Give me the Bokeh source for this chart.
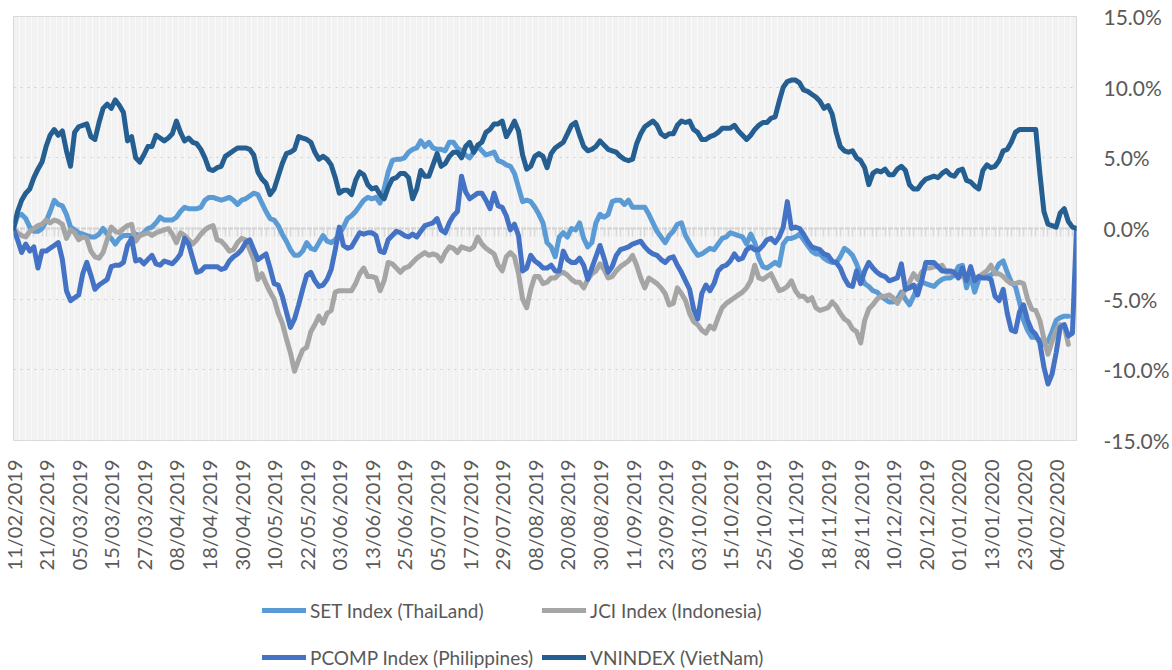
import math
import numpy as np
import pandas as pd
from bokeh.plotting import figure
from bokeh.layouts import column
from bokeh.models import (Range1d, LinearAxis, FixedTicker, SingleIntervalTicker,
                          PrintfTickFormatter, Legend, LegendItem, ColumnDataSource)
from bokeh.embed import file_html
from bokeh.resources import INLINE

nan = float("nan")

# ---- categories: trading days 11/02/2019 .. 11/02/2020 ----
dates = pd.bdate_range("2019-02-11", periods=262)
date_labels = [d.strftime("%d/%m/%Y") for d in dates]
label_every = 8

series_names = ["SET Index (ThaiLand)", "JCI Index (Indonesia)",
                "PCOMP Index (Philippines)", "VNINDEX (VietNam)"]

# ---- values in percent ----
SET = [
    0, 0.9, 1.0, 0.7, 0.1, -0.2, -0.2, 0.0, 0.5, 1.2,
    2.0, 1.7, 1.6, 1.0, 0.1, -0.1, -0.3, -0.4, -0.5, -0.6,
    -0.6, -0.4, 0.0, -0.4, -0.7, -1.1, -0.7, -0.5, -0.5, -0.5,
    -0.4, -0.5, -0.3, 0.0, 0.1, 0.4, 0.8, 0.6, 0.6, 0.6,
    0.8, 1.2, 1.5, 1.4, 1.4, 1.4, 1.5, 2.0, 2.2, 2.2,
    2.1, 2.0, 2.1, 2.2, 2.0, 1.7, 2.0, 2.1, 2.3, 2.5,
    2.4, 1.8, 1.2, 0.7, 0.6, 0.2, -0.4, -0.9, -1.5, -1.9,
    -1.9, -1.6, -1.0, -1.4, -1.5, -1.0, -0.5, -0.9, -1.0, -0.8,
    -0.4, 0.1, 0.7, 0.9, 1.2, 1.6, 2.0, 2.2, 2.1, 2.2,
    1.8, 2.8, 4.0, 4.8, 4.9, 4.9, 5.0, 5.4, 5.6, 5.7,
    6.2, 5.8, 6.1, 5.7, 5.6, 5.6, 5.5, 6.1, 6.1, 5.7,
    5.5, 5.2, 5.0, 5.4, 5.8, 5.5, 5.2, 5.3, 5.4, 4.8,
    4.7, 4.5, 4.4, 3.9, 2.9, 1.9, 2.0, 1.9, 1.5, 1.0,
    0.4, -1.0, -1.3, -2.0, -0.6, -0.3, -0.6, 0.0, -0.1, 0.4,
    -0.7, -1.3, -1.0, 0.4, 1.0, 0.8, 1.0, 1.9, 2.0, 2.0,
    1.7, 2.0, 1.5, 1.5, 1.5, 1.5, 1.0, 0.4, -0.2, -0.6,
    -1.0, -0.5, -0.2, 0.3, 0.4, -0.5, -1.0, -1.5, -1.9, -1.8,
    -1.6, -1.4, -1.5, -1.1, -0.7, -0.6, -0.3, -0.4, -0.5, -0.6,
    -1.1, -0.4, -1.0, -2.1, -2.7, -2.8, -2.6, -2.4, -2.6, -1.1,
    -0.7, -0.7, -0.6, -0.4, -0.8, -1.2, -1.6, -1.8, -1.8, -2.1,
    -2.3, -2.4, -2.4, -2.0, -1.4, -1.6, -1.9, -2.5, -3.3, -3.9,
    -4.1, -4.4, -4.5, -4.8, -5.0, -5.2, -5.2, -5.0, -4.5, -5.0,
    -5.4, -4.8, -4.1, -3.8, -3.9, -4.0, -4.1, -3.8, -3.6, -3.5,
    -3.5, -3.3, -2.7, -2.6, -4.2, -3.3, -4.5, -3.6, -3.4, -3.4,
    -3.3, -3.0, -2.5, -2.3, -3.1, -3.8, -4.1, -5.2, -6.5, -7.2,
    -7.7, -7.7, -7.9, -8.2, -8.0, -7.3, -6.5, -6.3, -6.2, -6.2,
    nan, nan]

JCI = [
    0, -0.3, -0.5, -0.6, -0.2, 0.0, 0.2, 0.3, 0.6, 0.4,
    0.6, 0.5, 0.3, -0.7, -0.1, -0.3, -0.8, -0.6, -0.7, -1.6,
    -2.0, -2.1, -1.7, -0.8, 0.1, -0.2, -0.3, 0.0, 0.2, 0.3,
    -0.9, -0.5, -0.4, -0.3, -0.5, -0.3, -0.2, -0.1, 0.0, -0.4,
    -1.0, -0.3, -0.5, -0.8, -1.1, -0.8, -0.4, -0.1, 0.1, 0.2,
    -0.8, -0.9, -1.2, -1.6, -1.5, -1.0, -0.7, -0.8, -1.5, -2.2,
    -3.6, -3.2, -3.9, -4.5, -5.0, -6.0, -6.7, -7.8, -8.8, -10.1,
    -9.3, -8.6, -8.4, -7.3, -6.8, -6.2, -6.7, -6.0, -5.8, -4.5,
    -4.4, -4.4, -4.4, -4.4, -3.9, -3.2, -2.8, -3.4, -3.4, -3.5,
    -4.4, -3.7, -2.4, -2.5, -2.8, -3.1, -2.8, -2.7, -2.4, -2.1,
    -1.9, -1.7, -1.9, -1.8, -1.9, -2.3, -1.7, -1.3, -1.4, -1.7,
    -1.3, -1.4, -1.5, -1.3, -0.6, -1.1, -1.4, -1.6, -1.8, -2.6,
    -3.0, -2.0, -1.7, -2.0, -3.2, -5.0, -5.6, -4.3, -3.4, -3.4,
    -3.9, -3.8, -3.5, -3.5, -3.2, -3.1, -3.3, -3.6, -3.8, -3.8,
    -4.2, -3.6, -3.2, -3.0, -2.5, -2.9, -3.5, -3.4, -3.0, -2.7,
    -2.5, -2.3, -1.9, -2.6, -3.5, -4.2, -3.5, -3.7, -3.9, -4.2,
    -4.6, -5.4, -5.3, -4.2, -4.6, -5.1, -6.0, -6.6, -6.8, -7.2,
    -7.4, -6.9, -7.1, -6.3, -5.6, -5.3, -5.1, -4.9, -4.7, -4.5,
    -4.2, -3.7, -2.6, -3.5, -3.6, -3.4, -3.2, -3.8, -4.4, -4.3,
    -4.1, -3.7, -4.4, -4.8, -4.8, -5.1, -4.9, -5.6, -5.8, -5.7,
    -5.6, -5.2, -5.5, -6.0, -6.4, -6.6, -7.1, -7.3, -8.1, -6.5,
    -5.7, -5.4, -5.0, -4.8, -4.8, -4.7, -4.9, -5.3, -4.8, -4.3,
    -3.8, -3.2, -3.6, -3.1, -2.8, -2.8, -2.7, -2.7, -2.6, -3.1,
    -3.1, -3.1, -3.3, -3.4, -3.4, -3.2, -3.6, -3.4, -3.2, -3.0,
    -2.6, -3.2, -3.2, -3.4, -3.7, -3.9, -3.9, -3.8, -3.9, -5.0,
    -5.7, -5.8, -6.5, -7.8, -8.9, -8.0, -7.2, -6.8, -6.9, -8.2,
    nan, nan]

PCOMP = [
    0, -0.8, -1.7, -1.1, -1.6, -1.3, -2.8, -1.6, -1.6, -1.4,
    -1.2, -1.0, -2.2, -4.4, -5.1, -4.9, -4.7, -3.2, -2.4, -3.3,
    -4.3, -4.0, -3.8, -3.6, -2.7, -2.6, -2.6, -2.4, -1.2, -0.7,
    -2.3, -2.2, -2.5, -2.2, -1.9, -2.5, -2.6, -2.3, -2.4, -2.5,
    -2.2, -1.8, -0.7, -1.1, -2.1, -3.1, -3.0, -2.7, -2.7, -2.7,
    -2.7, -2.9, -2.8, -2.3, -2.0, -1.8, -1.5, -1.0, -0.8, -1.5,
    -2.2, -2.0, -1.8, -2.8, -3.9, -4.0, -4.8, -5.9, -7.0, -6.4,
    -5.4, -4.3, -3.3, -3.1, -3.7, -4.1, -4.0, -3.6, -2.9, -1.5,
    0.1, -1.2, -1.4, -1.3, -0.8, -0.3, -0.4, -0.3, -0.3, -0.5,
    -1.6, -1.7, -0.8, -0.5, -0.2, -0.3, -0.5, -0.6, -0.4, -0.6,
    -0.2, 0.2, 0.3, 0.4, 0.7, -0.1, -0.3, 0.4, 0.9, 1.2,
    3.7, 2.6, 2.1, 2.3, 2.5, 2.5, 2.0, 1.4, 2.5, 1.6,
    1.5, 0.9, -0.1, 0.3, -0.5, -3.0, -2.8, -1.9, -2.3, -2.5,
    -2.8, -2.8, -2.6, -3.0, -3.0, -1.6, -2.2, -2.4, -2.4, -2.1,
    -2.6, -3.6, -2.8, -2.0, -1.2, -2.1, -3.1, -2.7, -1.9, -1.5,
    -1.4, -1.3, -1.1, -1.0, -0.9, -1.3, -1.6, -1.8, -1.9, -2.2,
    -2.4, -2.1, -2.0, -2.6, -3.1, -3.7, -4.3, -5.7, -6.4, -4.6,
    -4.0, -4.4, -3.9, -3.0, -2.7, -2.6, -2.3, -1.8, -2.2, -2.1,
    -1.5, -1.3, -1.5, -1.5, -1.2, -0.8, -0.7, -1.0, -0.6, 0.1,
    1.9, 0.0, 0.1, 0.0, -0.4, -0.9, -1.3, -1.4, -1.5, -1.8,
    -1.9, -2.3, -2.4, -2.8, -3.5, -4.0, -4.1, -3.0, -3.9, -3.0,
    -2.4, -2.8, -3.1, -3.3, -3.4, -3.7, -3.6, -3.5, -2.5, -4.3,
    -4.2, -4.0, -4.7, -3.7, -2.4, -2.4, -2.4, -2.7, -3.0, -3.0,
    -3.0, -3.1, -3.5, -2.8, -3.7, -2.7, -3.7, -3.4, -3.5, -3.5,
    -3.6, -4.8, -5.1, -4.3, -6.0, -7.2, -7.3, -5.9, -5.4, -6.5,
    -7.2, -7.5, -8.1, -9.8, -11.0, -10.3, -8.8, -7.0, -6.8, -7.6,
    -7.4, 0.0]

VN = [
    0, 1.2, 2.0, 2.5, 2.8, 3.6, 4.2, 4.7, 5.8, 6.6,
    7.0, 6.6, 6.9, 5.5, 4.4, 6.8, 7.2, 7.3, 7.4, 6.5,
    6.3, 7.5, 8.5, 8.8, 8.5, 9.1, 8.7, 8.2, 6.2, 6.5,
    5.0, 4.7, 5.2, 5.8, 5.8, 6.6, 6.4, 6.2, 6.4, 6.7,
    7.6, 6.8, 6.2, 6.4, 6.1, 6.0, 5.6, 5.0, 4.2, 4.1,
    4.3, 4.4, 5.1, 5.3, 5.5, 5.7, 5.7, 5.7, 5.6, 5.2,
    4.0, 3.5, 3.2, 2.4, 2.8, 3.7, 4.6, 5.3, 5.4, 5.6,
    6.5, 6.4, 6.3, 6.1, 5.4, 4.9, 5.1, 4.9, 4.5, 3.6,
    2.5, 2.7, 2.7, 2.4, 3.4, 4.0, 3.8, 3.1, 2.8, 2.9,
    2.4, 2.1, 2.9, 3.5, 3.6, 3.9, 3.9, 3.6, 2.1, 2.8,
    4.1, 3.7, 3.7, 4.5, 5.3, 4.4, 4.6, 5.1, 5.4, 5.4,
    5.0, 5.8, 6.1, 5.4, 5.9, 6.1, 6.8, 7.0, 7.4, 7.4,
    7.6, 6.5, 7.0, 7.6, 6.9, 5.2, 4.2, 4.4, 5.1, 5.3,
    5.1, 4.3, 5.3, 5.7, 5.9, 6.1, 6.7, 7.3, 7.5, 6.6,
    5.8, 5.5, 5.6, 5.8, 6.2, 5.9, 5.6, 5.5, 5.4, 5.1,
    4.9, 4.8, 4.9, 6.0, 6.7, 7.2, 7.4, 7.6, 7.3, 6.7,
    6.5, 6.7, 6.7, 7.3, 7.6, 7.5, 7.6, 7.0, 6.8, 6.3,
    6.3, 6.5, 6.6, 6.8, 7.1, 7.1, 7.1, 7.3, 6.9, 6.6,
    6.3, 6.6, 7.0, 7.3, 7.5, 7.5, 7.8, 7.9, 9.0, 10.0,
    10.4, 10.5, 10.5, 10.3, 9.8, 9.7, 9.5, 9.3, 9.0, 8.5,
    8.7, 8.1, 6.8, 5.8, 5.5, 5.4, 5.5, 5.0, 4.8, 4.3,
    3.1, 3.9, 4.1, 4.0, 4.2, 3.8, 3.8, 4.2, 4.4, 4.1,
    3.1, 2.8, 2.8, 3.2, 3.5, 3.6, 3.7, 3.6, 3.9, 4.1,
    3.8, 3.7, 4.1, 4.2, 3.4, 3.3, 3.0, 2.8, 4.1, 4.5,
    4.3, 4.4, 4.8, 5.5, 5.6, 6.1, 6.8, 7.0, 7.0, 7.0,
    7.0, 7.0, 3.9, 1.2, 0.3, 0.2, 0.1, 1.1, 1.4, 0.5,
    0.1, 0.0]

colors = ["#5B9BD5", "#A5A5A5", "#4472C4", "#255E91"]
keys = ["set", "jci", "pcomp", "vn"]
FONT = "Lato"
TEXT_COLOR = "#595959"
LINE_W = 5

n = len(dates)
src = ColumnDataSource(dict(
    x=np.arange(n),
    set=np.array(SET, dtype=float),
    jci=np.array(JCI, dtype=float),
    pcomp=np.array(PCOMP, dtype=float),
    vn=np.array(VN, dtype=float),
))

# ---------------- main chart ----------------
p = figure(width=1172, height=585, output_backend="svg", toolbar_location=None,
           x_range=Range1d(0, n - 1), y_range=Range1d(-15, 15),
           y_axis_location="right",
           min_border_left=13, min_border_top=16, min_border_right=96,
           min_border_bottom=145,
           background_fill_color="#F2F2F2", border_fill_color="white",
           outline_line_color="#D9D9D9", outline_line_width=1)

xax = p.xaxis[0]
tick_idx = list(range(0, n, label_every))
xax.ticker = FixedTicker(ticks=tick_idx)
xax.major_label_overrides = {i: date_labels[i] for i in tick_idx}
xax.major_label_orientation = math.pi / 2
xax.axis_line_color = None
xax.major_tick_line_color = None
xax.minor_tick_line_color = None
xax.major_label_standoff = 13
xax.major_label_text_font = FONT
xax.major_label_text_font_size = "20px"
xax.major_label_text_color = TEXT_COLOR

yax = p.yaxis[0]
yax.ticker = SingleIntervalTicker(interval=5)
yax.formatter = PrintfTickFormatter(format="%.1f%%")
yax.axis_line_color = None
yax.major_tick_line_color = None
yax.minor_tick_line_color = None
yax.major_label_standoff = 21
yax.major_label_text_font = FONT
yax.major_label_text_font_size = "21px"
yax.major_label_text_color = TEXT_COLOR

p.xgrid.ticker = SingleIntervalTicker(interval=1.5)
p.xgrid.grid_line_color = "#FAFAFA"
p.xgrid.grid_line_width = 1
p.ygrid.grid_line_color = "#D0D0D0"
p.ygrid.grid_line_dash = "2 5"
p.ygrid.grid_line_width = 1

# category axis crossing at 0%
zax = LinearAxis(fixed_location=0, ticker=SingleIntervalTicker(interval=1),
                 axis_line_color="#D9D9D9", axis_line_width=2.5,
                 major_tick_line_color="#D9D9D9", major_tick_line_width=1.5,
                 major_tick_in=0, major_tick_out=8,
                 minor_tick_line_color=None,
                 major_label_text_color=None, major_label_text_font_size="0px",
                 major_label_standoff=0, level="underlay")
p.add_layout(zax, "below")

for key, col in zip(keys, colors):
    p.line("x", key, source=src, line_color=col, line_width=LINE_W,
           line_join="round", line_cap="round")

# ---------------- legend strip ----------------
leg = figure(width=1172, height=85, output_backend="svg", toolbar_location=None,
             x_axis_location=None, y_axis_location=None,
             x_range=Range1d(0, 1), y_range=Range1d(0, 1),
             min_border=0, min_border_left=0, min_border_right=0,
             min_border_top=0, min_border_bottom=0,
             outline_line_color=None, background_fill_color="white",
             border_fill_color="white")
leg.grid.grid_line_color = None
leg.grid.visible = False
proxy_src = ColumnDataSource(dict(x=np.array([np.nan]), y=np.array([np.nan])))
proxies = []
for col in colors:
    proxies.append(leg.line("x", "y", source=proxy_src, line_color=col,
                            line_width=LINE_W, line_cap="round"))

legend = Legend(
    items=[LegendItem(label=nm, renderers=[r]) for nm, r in zip(series_names, proxies)],
    ncols=2, orientation="horizontal", location=(249, -6),
    glyph_width=44, glyph_height=38, label_height=38, label_standoff=4,
    spacing=9, padding=0, margin=0,
    border_line_color=None, background_fill_alpha=0,
    label_text_font=FONT, label_text_font_size="19px",
    label_text_color=TEXT_COLOR)
leg.add_layout(legend)

open("out.html", "w").write(file_html(column(p, leg, spacing=0), INLINE))
